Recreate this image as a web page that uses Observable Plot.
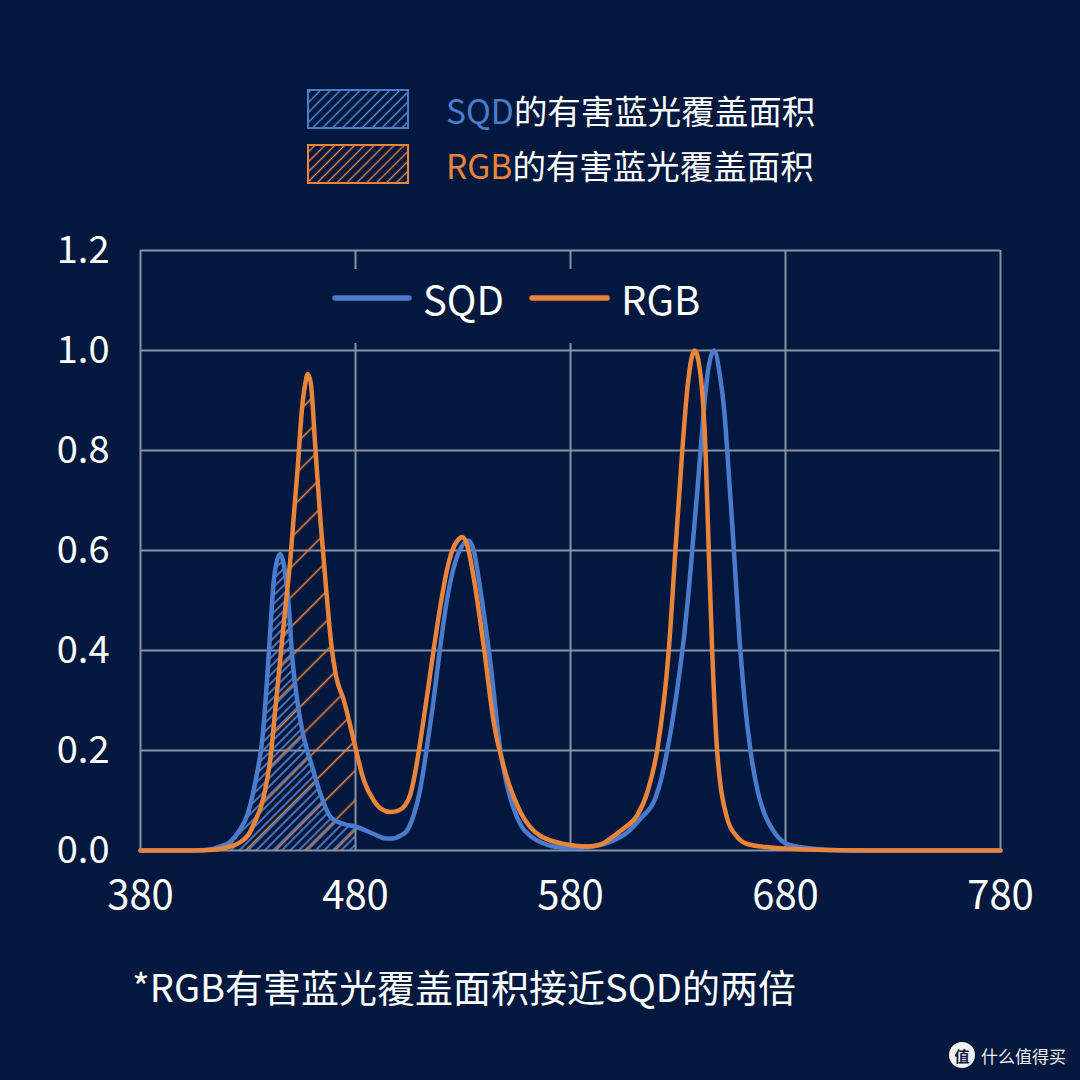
<!DOCTYPE html>
<html>
<head>
<meta charset="utf-8">
<script src="https://cdn.jsdelivr.net/npm/d3@7"></script>
<script src="https://cdn.jsdelivr.net/npm/@observablehq/plot@0.6"></script>
<style>
  html, body { margin: 0; padding: 0; }
  body { width: 1080px; height: 1080px; background: #03183e; position: relative; overflow: hidden;
         font-family: "Noto Sans CJK SC", "Noto Sans", sans-serif; }
  #chart { position: absolute; left: 0; top: 220px; }
  #overlay { position: absolute; left: 0; top: 0; }
</style>
</head>
<body>
<div id="chart"></div>
<svg id="overlay" width="1080" height="1080"></svg>
<script>
// ---- data ----
const sqdWavelength = [380,400,410,417,422,426,430,434,436.6,439,440.5,442,443.5,445,446.5,448,449,450.5,452.9,455.9,459.9,463.7,468.4,474.6,480,488.5,494,497,501,504,507,510,513,516,519.5,522.5,525.7,529,532.5,535,538,542.8,547.4,550.5,553.6,557,561.4,567,572,580,590,600,606,612.6,619.5,622.5,625,628,631,633,635,637,639,640.5,642,644,646.8,649.5,651.5,652.9,656,659,661,663.7,667,669.9,675,680.8,690,700,720,780];
const sqdIntensity = [0,0,0.001,0.008,0.018,0.04,0.075,0.15,0.22,0.35,0.45,0.54,0.58,0.593,0.575,0.53,0.487,0.39,0.3,0.227,0.167,0.113,0.067,0.053,0.048,0.033,0.024,0.024,0.03,0.04,0.07,0.12,0.2,0.29,0.41,0.5,0.566,0.605,0.62,0.6,0.524,0.373,0.2,0.13,0.084,0.05,0.029,0.015,0.008,0.005,0.008,0.02,0.035,0.064,0.105,0.148,0.2,0.275,0.365,0.435,0.52,0.62,0.72,0.8,0.88,0.96,1.0,0.95,0.88,0.8,0.6,0.4,0.3,0.2,0.12,0.077,0.035,0.013,0.005,0.001,0,0];

const rgbWavelength = [380,405,415,420,426.5,430,432.7,437.3,440.5,442.8,445.1,447.4,449.8,451.5,452.9,455.2,456.5,457.8,459.2,461.4,463.7,466.4,468.8,470.9,474.6,477.7,480,483.9,488.5,492,496.3,500,503,505.5,507.5,509.3,513.3,516.3,519.5,522.5,525,527.5,529.6,532,535,539.7,544.3,549,556.7,566,578.4,587.7,594,600.1,605,611,616,620.3,625.7,628.8,632,634.5,637.7,640.5,642.8,644.3,645.9,648.2,652.9,657,662.2,673,690,720,780];
const rgbIntensity = [0,0,0.002,0.006,0.017,0.03,0.053,0.107,0.187,0.287,0.387,0.487,0.587,0.68,0.753,0.887,0.93,0.953,0.935,0.8,0.66,0.52,0.41,0.35,0.3,0.247,0.205,0.14,0.1,0.083,0.077,0.08,0.09,0.112,0.15,0.195,0.31,0.4,0.49,0.56,0.6,0.62,0.627,0.61,0.545,0.407,0.256,0.167,0.077,0.029,0.012,0.008,0.012,0.029,0.045,0.07,0.12,0.2,0.4,0.6,0.8,0.93,1.0,0.95,0.8,0.6,0.4,0.2,0.064,0.03,0.013,0.006,0.002,0,0];

const harmfulBlueLimit = 480;
const xTicks = [380, 480, 580, 680, 780];
const yTicks = [0, 0.2, 0.4, 0.6, 0.8, 1.0, 1.2];
const seriesNames = ["SQD", "RGB"];
const topLegendLabel = "的有害蓝光覆盖面积";
const captionText = "*RGB有害蓝光覆盖面积接近SQD的两倍";
const watermarkText = "什么值得买";

// ---- styles ----
const BG = "#03183e";
const BLUE = "#4b7bcb";
const BLUE_HATCH = "#5f8fdc";
const ORANGE = "#e9843b";
const GRID = "#8a92a0";
const FONT = "'Noto Sans CJK SC', 'Noto Sans', sans-serif";

const sqd = sqdWavelength.map((x, i) => ({x, y: sqdIntensity[i]}));
const rgb = rgbWavelength.map((x, i) => ({x, y: rgbIntensity[i]}));
const sqdHarm = sqd.filter(d => d.x <= harmfulBlueLimit);
const rgbHarm = rgb.filter(d => d.x <= harmfulBlueLimit);

const plot = Plot.plot({
  width: 1080,
  height: 720,
  marginTop: 30,
  marginBottom: 90,
  marginLeft: 140,
  marginRight: 80,
  style: {background: "transparent", color: "#ffffff", fontFamily: FONT},
  x: {domain: [380, 780]},
  y: {domain: [0, 1.2]},
  marks: [
    Plot.gridX(xTicks, {stroke: GRID, strokeOpacity: 1, strokeWidth: 2}),
    Plot.gridY(yTicks, {stroke: GRID, strokeOpacity: 1, strokeWidth: 2}),
    Plot.areaY(rgbHarm, {x: "x", y: "y", fill: "url(#hatchO)", curve: "monotone-x"}),
    Plot.areaY(sqdHarm, {x: "x", y: "y", fill: "url(#hatchB)", curve: "monotone-x"}),
    Plot.lineY(sqd, {x: "x", y: "y", stroke: BLUE, strokeWidth: 4.5, curve: "monotone-x"}),
    Plot.lineY(rgb, {x: "x", y: "y", stroke: ORANGE, strokeWidth: 4.5, curve: "monotone-x"}),
    Plot.axisX(xTicks, {tickSize: 0, tickPadding: 30, fontSize: 40, fill: "#ffffff", tickFormat: d => String(d), label: null}),
    Plot.axisY(yTicks, {tickSize: 0, tickPadding: 31, fontSize: 38, fill: "#ffffff", tickFormat: d3.format(".1f"), label: null})
  ]
});
document.getElementById("chart").appendChild(plot);

// hatch patterns for the plot
const pdefs = d3.select(plot).insert("defs", ":first-child");
function hatch(defs, id, size, color, sw) {
  const p = defs.append("pattern").attr("id", id)
    .attr("patternUnits", "userSpaceOnUse")
    .attr("width", size).attr("height", size)
    .attr("patternTransform", "rotate(45)");
  p.append("line").attr("x1", size / 2).attr("y1", 0).attr("x2", size / 2).attr("y2", size)
    .attr("stroke", color).attr("stroke-width", sw);
}
hatch(pdefs, "hatchB", 6, BLUE_HATCH, 1.5);
hatch(pdefs, "hatchO", 21, ORANGE, 1.6);

// ---- overlay: legends, caption, watermark ----
const ov = d3.select("#overlay").style("font-family", FONT);
const odefs = ov.append("defs");
hatch(odefs, "lgB", 7, BLUE_HATCH, 1.4);
hatch(odefs, "lgO", 7, ORANGE, 1.4);

const topRows = [
  {name: seriesNames[0], color: BLUE, pat: "url(#lgB)", y: 109},
  {name: seriesNames[1], color: ORANGE, pat: "url(#lgO)", y: 164}
];
topRows.forEach(r => {
  ov.append("rect").attr("x", 308).attr("y", r.y - 19).attr("width", 100).attr("height", 38)
    .attr("fill", r.pat).attr("stroke", r.color).attr("stroke-width", 2);
  const t = ov.append("text").attr("x", 446).attr("y", r.y).attr("dominant-baseline", "central")
    .attr("font-size", 33.5).attr("fill", "#ffffff");
  t.append("tspan").attr("fill", r.color).text(r.name);
  t.append("tspan").text(topLegendLabel);
});

// inner legend (covers grid lines like the reference)
ov.append("rect").attr("x", 318).attr("y", 269).attr("width", 395).attr("height", 74).attr("fill", BG);
const inner = [
  {name: seriesNames[0], color: BLUE, x1: 335, x2: 409, tx: 423},
  {name: seriesNames[1], color: ORANGE, x1: 532, x2: 607, tx: 621}
];
inner.forEach(r => {
  ov.append("line").attr("x1", r.x1).attr("x2", r.x2).attr("y1", 298).attr("y2", 298)
    .attr("stroke", r.color).attr("stroke-width", 5.5).attr("stroke-linecap", "round");
  ov.append("text").attr("x", r.tx).attr("y", 298).attr("dominant-baseline", "central")
    .attr("font-size", 40).attr("fill", "#ffffff").text(r.name);
});

// caption
ov.append("text").attr("x", 132).attr("y", 985).attr("dominant-baseline", "central")
  .attr("font-size", 38).attr("fill", "#ffffff").text(captionText);

// watermark
ov.append("circle").attr("cx", 962).attr("cy", 1055).attr("r", 13).attr("fill", "#f2f2f2");
ov.append("text").attr("x", 962).attr("y", 1055).attr("text-anchor", "middle").attr("dominant-baseline", "central")
  .attr("font-size", 15).attr("font-weight", "bold").attr("fill", BG).text("值");
ov.append("text").attr("x", 981).attr("y", 1055).attr("dominant-baseline", "central")
  .attr("font-size", 17).attr("fill", "#eeeeee").text(watermarkText);
</script>
</body>
</html>
